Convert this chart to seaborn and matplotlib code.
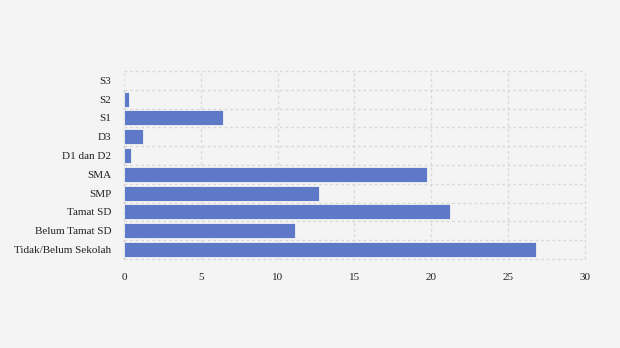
import matplotlib
matplotlib.use("Agg")
import matplotlib.pyplot as plt
import seaborn as sns
import pandas as pd
import numpy as np

categories = ["S3", "S2", "S1", "D3", "D1 dan D2", "SMA", "SMP",
              "Tamat SD", "Belum Tamat SD", "Tidak/Belum Sekolah"]
values = [0.0, 0.33, 6.45, 1.25, 0.45, 19.7, 12.7, 21.2, 11.1, 26.8]
x_ticks = [0, 5, 10, 15, 20, 25, 30]

df = pd.DataFrame({"kategori": categories, "nilai": values})

sns.set_style("white")
plt.rcParams["font.family"] = ["Liberation Serif", "DejaVu Serif"]

fig = plt.figure(figsize=(6.2, 3.48), dpi=100, facecolor="#f4f4f4")
ax = fig.add_axes([0.2, 0.256, 0.7435, 0.54])
ax.set_facecolor("#f4f4f4")

sns.barplot(data=df, x="nilai", y="kategori", order=categories,
            color="#5f79c9", saturation=1, width=0.8,
            edgecolor="#f4f4f4", linewidth=0.6, ax=ax, zorder=3)

ax.set_xlim(0, 30)
ax.set_ylim(len(categories) - 0.5, -0.5)
ax.set_xticks(x_ticks)
ax.set_xticklabels([str(t) for t in x_ticks])
ax.set_yticks(range(len(categories)))
ax.set_yticklabels(categories)
ax.set_yticks(np.arange(-0.5, len(categories)), minor=True)

for s in ax.spines.values():
    s.set_visible(False)

grid_kw = dict(color="#d9d9d9", linestyle=(0, (2, 2)), linewidth=1.0)
ax.grid(axis="x", which="major", **grid_kw)
ax.grid(axis="y", which="minor", **grid_kw)
ax.grid(axis="y", which="major", visible=False)
for t in ax.xaxis.get_major_ticks() + ax.yaxis.get_minor_ticks():
    t.gridline.set_clip_on(False)
# slightly darker dashed baseline at zero
ax.xaxis.get_major_ticks()[0].gridline.set_color("#c4c4c4")
ax.xaxis.get_major_ticks()[0].gridline.set_zorder(4)

ax.tick_params(axis="both", which="both", length=0, labelsize=8,
               colors="#222222")
ax.tick_params(axis="y", pad=9)
ax.tick_params(axis="x", pad=10)
ax.set_xlabel("")
ax.set_ylabel("")

fig.savefig("out.png", dpi=100, facecolor="#f4f4f4")
